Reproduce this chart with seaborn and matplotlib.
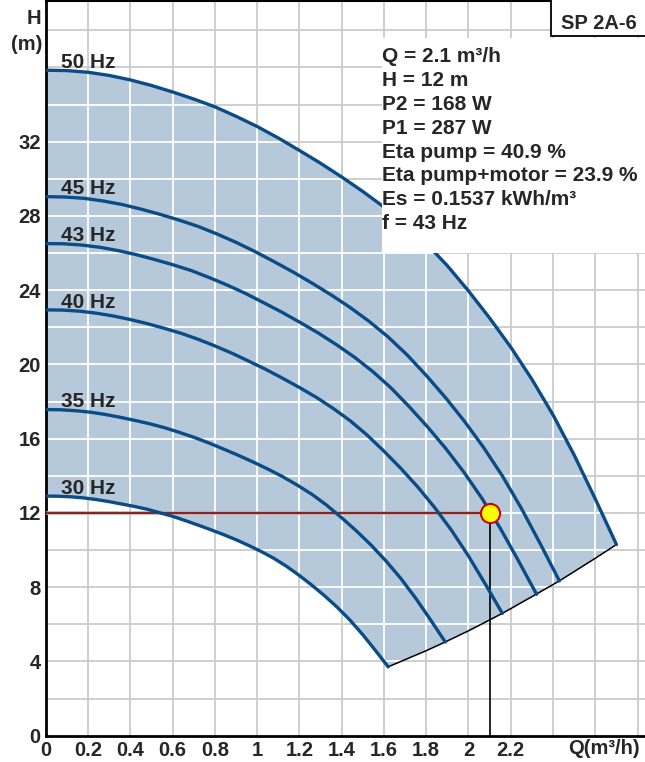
import numpy as np
import pandas as pd
import matplotlib
matplotlib.use('Agg')
import matplotlib.pyplot as plt
from matplotlib.patches import Rectangle
import seaborn as sns

# pump curves (Q in m3/h, H in m)
q_50 = [0, 0.1, 0.2, 0.3, 0.4, 0.5, 0.6, 0.7, 0.8, 0.9, 1.0, 1.1, 1.2, 1.3,
        1.4, 1.5, 1.6, 1.7, 1.8, 1.9, 2.0, 2.1, 2.2, 2.3, 2.4, 2.5, 2.6, 2.7]
h_50 = [35.85, 35.83, 35.74, 35.57, 35.33, 35.03, 34.68, 34.30, 33.88, 33.37,
        32.82, 32.20, 31.53, 30.84, 30.10, 29.32, 28.48, 27.55, 26.52, 25.32,
        23.96, 22.50, 20.93, 19.20, 17.28, 15.12, 12.75, 10.30]
q_45 = [0, 0.09, 0.18, 0.27, 0.36, 0.45, 0.54, 0.63, 0.72, 0.81, 0.9, 0.99, 1.08, 1.17,
        1.26, 1.35, 1.44, 1.53, 1.62, 1.71, 1.8, 1.89, 1.98, 2.07, 2.16, 2.25, 2.34, 2.43]
h_45 = [29.04, 29.02, 28.95, 28.81, 28.62, 28.37, 28.09, 27.78, 27.44, 27.03,
        26.58, 26.08, 25.54, 24.98, 24.38, 23.75, 23.07, 22.32, 21.48, 20.51,
        19.41, 18.23, 16.95, 15.55, 14.00, 12.25, 10.33, 8.34]
q_43 = [0, 0.086, 0.172, 0.258, 0.344, 0.43, 0.516, 0.602, 0.688, 0.774, 0.86, 0.946,
        1.032, 1.118, 1.204, 1.29, 1.376, 1.462, 1.548, 1.634, 1.72, 1.806, 1.892,
        1.978, 2.064, 2.15, 2.236, 2.322]
h_43 = [26.51, 26.50, 26.43, 26.31, 26.13, 25.91, 25.65, 25.37, 25.06, 24.68,
        24.27, 23.82, 23.32, 22.81, 22.26, 21.69, 21.06, 20.38, 19.61, 18.73,
        17.72, 16.64, 15.48, 14.20, 12.78, 11.18, 9.43, 7.62]
q_40 = [0, 0.08, 0.16, 0.24, 0.32, 0.4, 0.48, 0.56, 0.64, 0.72, 0.8, 0.88, 0.96, 1.04,
        1.12, 1.2, 1.28, 1.36, 1.44, 1.52, 1.6, 1.68, 1.76, 1.84, 1.92, 2.0, 2.08, 2.16]
h_40 = [22.94, 22.93, 22.87, 22.76, 22.61, 22.42, 22.20, 21.95, 21.68, 21.36,
        21.00, 20.61, 20.18, 19.74, 19.26, 18.76, 18.23, 17.63, 16.97, 16.20,
        15.33, 14.40, 13.40, 12.29, 11.06, 9.68, 8.16, 6.59]
q_35 = [0, 0.07, 0.14, 0.21, 0.28, 0.35, 0.42, 0.49, 0.56, 0.63, 0.7, 0.77, 0.84, 0.91,
        0.98, 1.05, 1.12, 1.19, 1.26, 1.33, 1.4, 1.47, 1.54, 1.61, 1.68, 1.75, 1.82, 1.89]
h_35 = [17.57, 17.56, 17.51, 17.43, 17.31, 17.16, 16.99, 16.81, 16.60, 16.35,
        16.08, 15.78, 15.45, 15.11, 14.75, 14.37, 13.96, 13.50, 13.00, 12.41,
        11.74, 11.03, 10.26, 9.41, 8.47, 7.41, 6.25, 5.05]
q_30 = [0, 0.06, 0.12, 0.18, 0.24, 0.3, 0.36, 0.42, 0.48, 0.54, 0.6, 0.66, 0.72, 0.78,
        0.84, 0.9, 0.96, 1.02, 1.08, 1.14, 1.2, 1.26, 1.32, 1.38, 1.44, 1.5, 1.56, 1.62]
h_30 = [12.91, 12.90, 12.87, 12.81, 12.72, 12.61, 12.48, 12.35, 12.20, 12.01,
        11.82, 11.59, 11.35, 11.10, 10.84, 10.56, 10.25, 9.92, 9.55, 9.12,
        8.63, 8.10, 7.53, 6.91, 6.22, 5.44, 4.59, 3.71]

# lower limit line through the curve ends
q_min = [1.62, 1.8, 1.89, 2.0, 2.16, 2.32, 2.43, 2.6, 2.7]
h_min = [3.71, 4.58, 5.05, 5.65, 6.59, 7.62, 8.34, 9.56, 10.30]

freq_labels = ['50 Hz', '45 Hz', '43 Hz', '40 Hz', '35 Hz', '30 Hz']

# duty point
duty_q = 2.1
duty_h = 12

info_lines = ['Q = 2.1 m³/h', 'H = 12 m', 'P2 = 168 W', 'P1 = 287 W',
              'Eta pump = 40.9 %', 'Eta pump+motor = 23.9 %',
              'Es = 0.1537 kWh/m³', 'f = 43 Hz']
pump_name = 'SP 2A-6'

x_ticks = [0, 0.2, 0.4, 0.6, 0.8, 1.0, 1.2, 1.4, 1.6, 1.8, 2.0, 2.2]
x_tick_labels = ['0', '0.2', '0.4', '0.6', '0.8', '1', '1.2', '1.4', '1.6', '1.8', '2', '2.2']
y_ticks = [0, 4, 8, 12, 16, 20, 24, 28, 32]
y_tick_labels = ['0', '4', '8', '12', '16', '20', '24', '28', '32']

BLUE = '#0b4b86'
FILL = '#b6c9db'

curves = [(q_50, h_50), (q_45, h_45), (q_43, h_43), (q_40, h_40), (q_35, h_35), (q_30, h_30)]
df = pd.concat([pd.DataFrame({'Q': q, 'H': h, 'curve': lab})
                for (q, h), lab in zip(curves, freq_labels)], ignore_index=True)

sns.set_style('white')
plt.rcParams['font.family'] = ['Liberation Sans', 'DejaVu Sans']
plt.rcParams['font.weight'] = 'bold'

fig = plt.figure(figsize=(6.45, 7.62), dpi=100)
ax = fig.add_axes([0.0709, 0.0345, 0.9291, 0.9642])
ax.set_xlim(0, 2.835)
ax.set_ylim(0, 39.58)

# grey grid everywhere, white grid inside the operating range
grid_x = np.arange(0.2, 2.85, 0.2)
grid_y = np.arange(2, 40, 2)
for gx in grid_x:
    ax.axvline(gx, color='#cccccc', lw=1.3, zorder=0.5)
for gy in grid_y:
    ax.axhline(gy, color='#cccccc', lw=1.3, zorder=0.5)

poly_x = q_50 + q_min[::-1] + q_30[::-1]
poly_y = h_50 + h_min[::-1] + h_30[::-1]
poly = ax.fill(poly_x, poly_y, color=FILL, lw=0, zorder=1)[0]

for gx in grid_x:
    ln = ax.axvline(gx, color='white', lw=1.3, zorder=1.5)
    ln.set_clip_path(poly)
for gy in grid_y:
    ln = ax.axhline(gy, color='white', lw=1.3, zorder=1.5)
    ln.set_clip_path(poly)

sns.lineplot(data=df, x='Q', y='H', units='curve', estimator=None, sort=False,
             color=BLUE, lw=2.4, ax=ax, zorder=3)
ax.plot(q_min, h_min, color='black', lw=1.1, zorder=2.5)

for (q, h), lab in zip(curves, freq_labels):
    ax.text(0.07, h[0] + 0.12, lab, fontsize=15, fontweight='bold',
            ha='left', va='baseline', zorder=6)

# duty point lines and marker
ax.hlines(duty_h, 0, duty_q, color='#d9a0a0', lw=2.6, zorder=2.6)
ax.hlines(duty_h, 0, duty_q, color='#5a0808', lw=1.1, zorder=2.7)
ax.vlines(duty_q, 0, duty_h, color='black', lw=1.2, zorder=2.7)
ax.scatter([duty_q], [duty_h], s=190, facecolor='#ffff00', edgecolor='#d40000',
           lw=1.5, zorder=7)

# info block
ax.add_patch(Rectangle((1.59, 26.0), 1.4, 11.6, facecolor='white',
                       edgecolor='none', zorder=4))
for i, line in enumerate(info_lines):
    ax.text(1.59, 36.3 - i * 1.288, line, fontsize=15, fontweight='bold',
            ha='left', va='baseline', zorder=6)

ax.add_patch(Rectangle((0.843, 0.952), 0.2, 0.1, transform=ax.transAxes,
                       facecolor='white', edgecolor='black', lw=1.3,
                       clip_on=False, zorder=8))
ax.text(0.923, 0.970, pump_name, transform=ax.transAxes, fontsize=14.5,
        fontweight='bold', ha='center', va='center', zorder=9)

ax.set_xticks(x_ticks)
ax.set_xticklabels(x_tick_labels, fontsize=14.5, fontweight='bold')
ax.set_yticks(y_ticks)
ax.set_yticklabels(y_tick_labels, fontsize=14.5, fontweight='bold')
ax.tick_params(length=0, pad=3.5)
ax.set_xlabel('')
ax.set_ylabel('')

fig.text(640 / 645, 1 - 748 / 762, 'Q(m³/h)', fontsize=14.5, fontweight='bold',
         ha='right', va='center')
fig.text(41 / 645, 1 - 18 / 762, 'H', fontsize=14.5, fontweight='bold',
         ha='right', va='center')
fig.text(42 / 645, 1 - 45 / 762, '(m)', fontsize=14.5, fontweight='bold',
         ha='right', va='center')

for side in ['left', 'bottom']:
    ax.spines[side].set_color('black')
    ax.spines[side].set_linewidth(2)
ax.spines['top'].set_color('black')
ax.spines['top'].set_linewidth(1.5)
ax.spines['right'].set_visible(False)

fig.savefig('out.png', dpi=100)
